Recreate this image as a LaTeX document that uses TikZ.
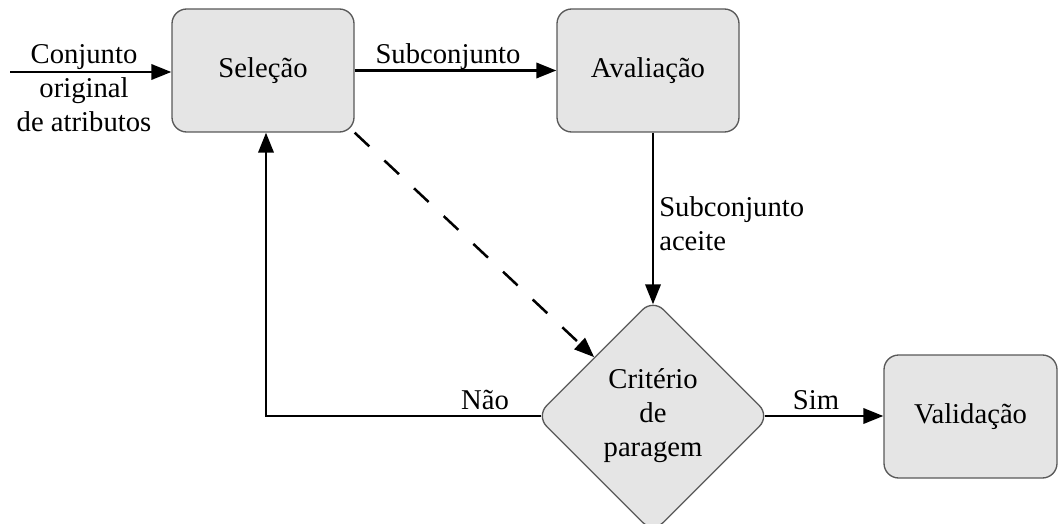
\documentclass[tikz,border=0pt]{standalone}
\usepackage{fontspec}
\setmainfont{Liberation Serif}
\usetikzlibrary{arrows.meta,shapes.geometric}
\begin{document}
\begin{tikzpicture}[x=0.75pt,y=-0.75pt,
  txt/.style={font=\fontsize{21.5}{25.5}\selectfont},
  box/.style={txt,draw=black!65,fill=black!10,line width=1pt,rounded corners=11pt,
    minimum width=136.5pt,minimum height=92.25pt,inner sep=0pt},
  dec/.style={txt,diamond,draw=black!65,fill=black!10,line width=1pt,rounded corners=11pt,
    minimum width=175.5pt,minimum height=175.5pt,aspect=1,inner sep=0pt,align=center},
  conn/.style={line width=1.9pt,-{Triangle[length=15pt,width=11.5pt]}},
  lbl/.style={txt,inner sep=0pt}
]
\useasboundingbox (0,0) rectangle (1059,524);
\node[box] (sel) at (263,70.5) {Seleção};
\node[box] (ava) at (648,70.5) {Avaliação};
\node[box,minimum width=129.75pt] (val) at (970.5,416.5) {Validação};
\node[dec] (crit) at (653,416) {Critério\\de\\paragem};

\coordinate (in) at (10,72);
\draw[conn] (in) -- (in -| sel.west);
\node[lbl,align=center] (inlbl) at (84,88) {Conjunto\\original\\de atributos};

\draw[conn] (sel.east) -- (ava.west);
\node[lbl] (sublbl) at (448,57) {Subconjunto};

\draw[conn] (ava.south -| crit.north) -- ([yshift=-4.5pt]crit.north);
\node[lbl,align=left,anchor=west] (acclbl) at (659,224) {Subconjunto\\aceite};

\draw[conn,dash pattern=on 15pt off 15.5pt] (sel.south east) -- (crit.north west);

\draw[conn] ([xshift=4.5pt]crit.west) -| ([xshift=2.25pt]sel.south);
\node[lbl] (naolbl) at (485,400) {Não};

\draw[conn] ([xshift=-4.5pt]crit.east) -- (crit.east -| val.west);
\node[lbl] (simlbl) at (816,400) {Sim};
\end{tikzpicture}
\end{document}
